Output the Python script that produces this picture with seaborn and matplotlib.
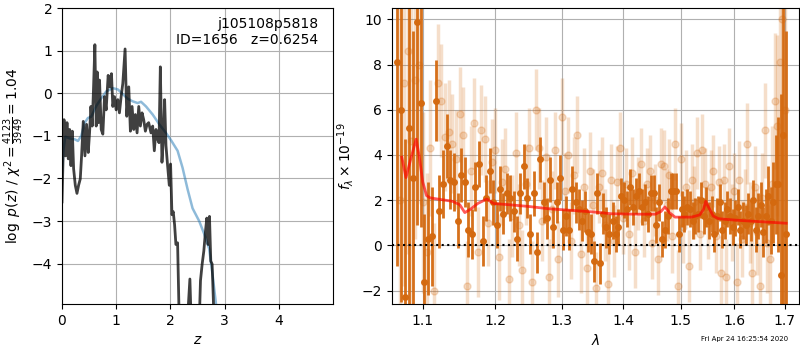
import numpy as np
import pandas as pd
import matplotlib
matplotlib.use("Agg")
import matplotlib.pyplot as plt
import seaborn as sns
from matplotlib.ticker import FixedLocator, FixedFormatter, NullLocator

# p(z) curve (noisy) and smoothed prior-ish curve
pz_z = [0.0, 0.037, 0.067, 0.092, 0.116, 0.141, 0.165, 0.19, 0.214, 0.245, 0.276, 0.306,
        0.337, 0.361, 0.392, 0.423, 0.453, 0.484, 0.508, 0.533, 0.557, 0.582, 0.606, 0.631,
        0.649, 0.674, 0.692, 0.723, 0.753, 0.784, 0.814, 0.851, 0.882, 0.912, 0.937, 0.968,
        0.998, 1.029, 1.059, 1.09, 1.121, 1.163, 1.194, 1.231, 1.261, 1.292, 1.323, 1.353,
        1.384, 1.415, 1.445, 1.476, 1.506, 1.537, 1.568, 1.598, 1.641, 1.672, 1.702, 1.733,
        1.764, 1.788, 1.813, 1.843, 1.868, 1.892, 1.917, 1.947, 1.978, 2.002, 2.027, 2.051,
        2.076, 2.1, 2.131, 2.162, 2.31, 2.358, 2.382, 2.53, 2.553, 2.584, 2.615, 2.645,
        2.67, 2.694, 2.719, 2.743, 2.768, 2.805]
pz_logp = [-2.55, -0.62, -1.47, -0.69, -1.54, -0.85, -1.70, -0.89, -1.77, -2.16, -2.35, -2.16,
           -2.01, -1.47, -0.66, -1.47, -0.73, -1.39, -0.93, -0.31, -0.77, 0.15, 1.14, -0.77,
           0.50, -0.69, 0.31, -0.85, -0.96, -0.08, -0.39, 0.42, 0.15, 0.46, -0.31, -0.08,
           -0.39, -0.15, -0.46, -0.08, 0.23, 1.04, -0.54, 0.15, -0.89, -0.31, -0.85, -0.50,
           -0.93, -0.31, -0.77, -0.46, -0.62, -0.89, -0.73, -0.69, -0.93, -0.77, -1.35, -0.85,
           -1.08, -1.16, 0.62, -1.62, -1.08, -0.15, -1.23, -1.70, -2.16, -1.66, -2.85, -2.78,
           -3.09, -3.55, -3.51, -5.4, -5.4, -4.36, -5.4, -5.4, -4.40, -4.01, -3.70, -3.24,
           -2.93, -3.55, -2.89, -3.94, -4.01, -5.4]

smooth_z = [0.0, 0.03, 0.061, 0.141, 0.233, 0.294, 0.355, 0.416, 0.478, 0.539, 0.631, 0.723,
            0.814, 0.937, 1.029, 1.121, 1.212, 1.304, 1.396, 1.457, 1.549, 1.672, 1.794,
            1.917, 2.009, 2.131, 2.223, 2.315, 2.407, 2.529, 2.621, 2.713, 2.774, 2.835, 2.9]
smooth_logp = [-1.85, -1.3, -1.02, -1.06, -1.08, -1.12, -1.0, -0.7, -0.58, -0.55, -0.30, -0.12,
               0.04, 0.12, 0.09, -0.02, -0.13, -0.19, -0.23, -0.20, -0.31, -0.50, -0.73,
               -0.93, -1.10, -1.35, -1.75, -2.25, -2.70, -3.00, -3.30, -3.65, -4.24, -4.90, -5.6]

# spectrum, combined (dark) points
lam_dark = [1.067, 1.072, 1.077, 1.082, 1.087, 1.092, 1.097, 1.102, 1.107, 1.112, 1.117, 1.122,
            1.127, 1.132, 1.137, 1.142, 1.147, 1.152, 1.157, 1.162, 1.167, 1.172, 1.177, 1.182,
            1.187, 1.192, 1.197, 1.202, 1.207, 1.212, 1.217, 1.222, 1.227, 1.232, 1.237, 1.242,
            1.247, 1.252, 1.257, 1.262, 1.267, 1.272, 1.277, 1.282, 1.287, 1.292, 1.297, 1.302,
            1.307, 1.312, 1.317, 1.322, 1.327, 1.332, 1.337, 1.342, 1.347, 1.352, 1.357, 1.362,
            1.367, 1.372, 1.377, 1.382, 1.387, 1.392, 1.397, 1.402, 1.407, 1.412, 1.417, 1.422,
            1.427, 1.432, 1.437, 1.442, 1.447, 1.452, 1.457, 1.462, 1.467, 1.472, 1.477, 1.482,
            1.487, 1.492, 1.497, 1.502, 1.507, 1.512, 1.517, 1.522, 1.527, 1.532, 1.537, 1.542,
            1.547, 1.552, 1.557, 1.562, 1.567, 1.572, 1.577, 1.582, 1.587, 1.592, 1.597, 1.602,
            1.607, 1.612, 1.617, 1.622, 1.627, 1.632, 1.637, 1.642, 1.647, 1.652, 1.657, 1.662,
            1.667, 1.672, 1.677, 1.682, 1.687, 1.692, 1.697, 1.702]
flux_dark = [8.1, 6.0, -2.3, 5.2, 3.0, 9.9, 6.3, -1.6, 0.3, 0.4, 6.4, 1.5,
             2.7, 4.4, 2.9, 2.8, 1.1, 3.1, 2.8, 0.7, 0.5, 2.6, 3.6, 0.2,
             2.1, 3.3, 1.9, 0.9, 2.5, 1.4, 2.3, 2.1, 1.5, 0.3, 2.3, 3.5,
             2.1, 0.5, 2.3, -0.3, 3.8, 1.9, 1.2, 2.9, 0.8, 1.9, 3.0, 0.7,
             1.3, 0.7, 2.5, 1.9, 1.6, 1.1, 1.5, 0.6, 0.5, -0.7, 2.3, -0.8,
             1.4, 0.8, 0.5, 1.1, 0.5, 0.8, 2.2, 2.0, 1.6, 2.6, 1.7, 2.2,
             2.4, 1.7, 1.9, 1.4, 2.3, 2.3, 0.9, 1.9, 0.3, 0.7, 1.3, 2.4,
             2.4, 2.4, 0.5, 1.6, 1.4, 1.7, 1.6, 1.1, 1.3, 1.4, 2.0, 1.3,
             1.7, 1.1, 1.4, 0.5, 1.3, 1.9, 0.7, 1.1, 1.6, 1.3, 0.8, 1.2,
             1.7, 0.7, 1.1, 0.9, 1.4, 1.1, 2.0, 0.7, 1.3, 1.8, 0.6, 1.3,
             2.2, 1.1, 1.9, 2.7, 2.7, -1.3, 4.9, 0.5]
err_dark = [9.0, 8.5, 7.0, 8.0, 6.5, 9.0, 5.5, 3.0, 2.5, 2.2, 1.8, 1.6,
            1.5, 1.4, 1.3, 1.3, 1.2, 1.2, 1.1, 1.2, 1.1, 1.1, 1.0, 1.1,
            1.0, 1.0, 1.0, 1.0, 1.0, 0.9, 0.9, 1.0, 0.9, 1.0, 0.9, 1.0,
            0.9, 0.9, 1.0, 0.9, 1.0, 0.9, 0.9, 1.0, 0.9, 0.9, 1.0, 0.9,
            0.9, 0.9, 1.0, 0.9, 0.9, 0.9, 0.9, 0.9, 0.9, 0.9, 0.9, 0.9,
            0.9, 0.9, 0.9, 0.8, 0.8, 0.8, 0.8, 0.8, 0.8, 0.8, 0.8, 0.8,
            0.8, 0.8, 0.8, 0.8, 0.8, 0.8, 0.8, 0.8, 0.8, 0.8, 0.8, 0.8,
            0.8, 0.8, 0.8, 0.8, 0.8, 0.8, 0.8, 0.8, 0.8, 0.8, 0.8, 0.8,
            0.9, 0.8, 0.8, 0.8, 0.8, 0.8, 0.8, 0.8, 0.8, 0.8, 0.8, 0.8,
            0.8, 0.8, 0.8, 0.9, 0.9, 0.9, 0.9, 1.0, 1.0, 1.0, 1.1, 1.2,
            1.3, 1.5, 1.8, 2.2, 3.0, 8.0, 8.5, 9.0]

# individual beam (light) points
lam_light = [1.070, 1.075, 1.080, 1.085, 1.090, 1.095, 1.100, 1.105, 1.110, 1.115, 1.120, 1.125,
             1.130, 1.135, 1.140, 1.145, 1.150, 1.155, 1.160, 1.165, 1.170, 1.175, 1.180, 1.185,
             1.190, 1.195, 1.200, 1.205, 1.210, 1.215, 1.220, 1.225, 1.230, 1.235, 1.240, 1.245,
             1.250, 1.255, 1.260, 1.265, 1.270, 1.275, 1.280, 1.285, 1.290, 1.295, 1.300, 1.305,
             1.310, 1.315, 1.320, 1.325, 1.330, 1.335, 1.340, 1.345, 1.350, 1.355, 1.360, 1.365,
             1.370, 1.375, 1.380, 1.385, 1.390, 1.395, 1.400, 1.405, 1.410, 1.415, 1.420, 1.425,
             1.430, 1.435, 1.440, 1.445, 1.450, 1.455, 1.460, 1.465, 1.470, 1.475, 1.480, 1.485,
             1.490, 1.495, 1.500, 1.505, 1.510, 1.515, 1.520, 1.525, 1.530, 1.535, 1.540, 1.545,
             1.550, 1.555, 1.560, 1.565, 1.570, 1.575, 1.580, 1.585, 1.590, 1.595, 1.600, 1.605,
             1.610, 1.615, 1.620, 1.625, 1.630, 1.635, 1.640, 1.645, 1.650, 1.655, 1.660, 1.665,
             1.670, 1.675, 1.680, 1.685, 1.690, 1.695, 1.700]
flux_light = [2.0, 7.2, 8.6, 4.6, 7.3, 8.0, 1.9, -0.3, 4.3, -2.0, 7.2, 6.4,
              4.8, 5.0, 4.5, 3.8, 5.8, 4.9, -1.8, 3.3, 5.4, -0.3, 5.1, 4.7,
              1.0, 3.7, 4.2, -0.5, 2.8, 3.4, -1.5, 1.3, 4.1, 0.9, -1.1, 2.7,
              4.3, -1.6, 6.0, 4.3, 1.1, 3.9, -1.4, 1.6, 4.2, -0.6, 5.7, 2.4,
              4.0, 0.2, 3.1, 4.9, -0.4, 2.6, -1.0, 3.3, 1.8, -1.9, 2.6, 3.2,
              0.9, -1.7, 2.9, 0.2, 2.8, 4.3, 1.2, 2.7, 0.5, 3.2, -0.3, 2.3,
              3.6, 1.1, 2.7, 3.3, 0.1, 2.0, -0.6, 3.6, 3.5, 1.8, 3.1, 0.4,
              4.5, -1.8, 3.8, 0.8, 2.6, -0.9, 2.9, 1.9, 4.1, 0.5, 4.2, 2.7,
              1.0, 2.6, 3.3, 0.4, 2.8, -1.2, 2.9, -1.4, 3.5, 1.0, 2.4, -1.6,
              2.9, 0.3, 1.7, 4.5, 1.0, -1.2, 2.6, 0.6, -1.8, 2.1, 5.1, 0.1,
              -0.6, 2.7, 6.4, 5.3, 8.1, 10.0, 6.0]
err_light = [10.0, 9.0, 9.0, 8.0, 7.0, 6.0, 4.0, 3.5, 3.0, 3.0, 2.6, 2.5,
             2.4, 2.3, 2.2, 2.2, 2.1, 2.1, 2.0, 2.0, 2.0, 2.0, 2.0, 1.9,
             1.9, 1.9, 1.9, 1.9, 1.9, 1.8, 1.8, 1.8, 1.8, 1.8, 1.8, 1.8,
             1.8, 1.8, 1.8, 1.8, 1.8, 1.8, 1.7, 1.7, 1.7, 1.7, 1.7, 1.7,
             1.7, 1.7, 1.7, 1.7, 1.7, 1.7, 1.7, 1.7, 1.6, 1.6, 1.6, 1.6,
             1.6, 1.6, 1.6, 1.6, 1.6, 1.6, 1.6, 1.6, 1.6, 1.6, 1.6, 1.6,
             1.6, 1.6, 1.6, 1.6, 1.6, 1.6, 1.6, 1.6, 1.6, 1.6, 1.6, 1.6,
             1.6, 1.6, 1.6, 1.6, 1.6, 1.6, 1.6, 1.6, 1.6, 1.6, 1.6, 1.6,
             1.6, 1.6, 1.6, 1.6, 1.6, 1.6, 1.6, 1.7, 1.7, 1.7, 1.7, 1.7,
             1.7, 1.7, 1.7, 1.8, 1.8, 1.8, 1.8, 1.9, 1.9, 2.0, 2.1, 2.2,
             2.4, 2.6, 3.0, 4.0, 5.5, 7.0, 9.0]

# best-fit model
lam_model = [1.0726, 1.078, 1.084, 1.0912, 1.095, 1.100, 1.105, 1.110, 1.120, 1.140, 1.150,
             1.157, 1.165, 1.175, 1.188, 1.198, 1.220, 1.250, 1.280, 1.300, 1.350, 1.380,
             1.420, 1.455, 1.465, 1.472, 1.480, 1.490, 1.520, 1.535, 1.542, 1.546, 1.551,
             1.560, 1.570, 1.600, 1.650, 1.703]
flux_model = [3.9, 3.0, 3.8, 4.7, 4.0, 2.8, 2.2, 2.1, 2.05, 1.95, 1.8,
              1.45, 1.6, 1.85, 2.05, 1.85, 1.8, 1.72, 1.62, 1.58, 1.48, 1.40,
              1.38, 1.38, 1.5, 1.7, 1.45, 1.25, 1.25, 1.35, 1.6, 1.95, 1.7,
              1.3, 1.18, 1.12, 1.05, 0.98]

lam_ticks = [1.1, 1.2, 1.3, 1.4, 1.5, 1.6, 1.7]
orange = "#d4690f"

fig = plt.figure(figsize=(8, 3.5), dpi=100)
ax1 = fig.add_axes([0.0775, 0.131, 0.339, 0.846])
ax2 = fig.add_axes([0.49, 0.131, 0.509, 0.846])

#p(z) panel
pz = pd.DataFrame({"z": pz_z, "logp": pz_logp})
sm = pd.DataFrame({"z": smooth_z, "logp": smooth_logp})
sns.lineplot(data=sm, x="z", y="logp", ax=ax1, color="#1f77b4", alpha=0.5, lw=1.8,
             estimator=None, sort=False)
sns.lineplot(data=pz, x="z", y="logp", ax=ax1, color="k", alpha=0.75, lw=2,
             estimator=None, sort=False)
ax1.set_xlim(0, 5.0)
ax1.set_ylim(-4.95, 2)
ax1.set_xticks([0, 1, 2, 3, 4])
ax1.set_yticks([-4, -3, -2, -1, 0, 1, 2])
ax1.grid(True)
ax1.set_xlabel(r"$z$")
ax1.set_ylabel(r"$\log\ p(z)$ / $\chi^2=\frac{4123}{3949}=1.04$")
ax1.text(0.945, 0.97, "j105108p5818\nID=1656   z=0.6254", transform=ax1.transAxes,
         ha="right", va="top", fontsize=10)

#spectrum panel
ax2.errorbar(lam_light, flux_light, yerr=err_light, fmt="o", color=orange, alpha=0.22,
             ms=5, lw=2.5, zorder=1)
ax2.errorbar(lam_dark, flux_dark, yerr=err_dark, fmt="o", color=orange, alpha=0.95,
             ms=4, lw=2, zorder=2)
md = pd.DataFrame({"lam": lam_model, "flux": flux_model})
sns.lineplot(data=md, x="lam", y="flux", ax=ax2, color="r", alpha=0.65, lw=2,
             estimator=None, sort=False, zorder=3)
ax2.axhline(0, color="k", ls=":", lw=1.5, zorder=4)
ax2.set_xscale("log")
ax2.set_xlim(1.06, 1.73)
ax2.set_ylim(-2.6, 10.5)
ax2.xaxis.set_major_locator(FixedLocator(lam_ticks))
ax2.xaxis.set_major_formatter(FixedFormatter([str(t) for t in lam_ticks]))
ax2.xaxis.set_minor_locator(NullLocator())
ax2.set_yticks([-2, 0, 2, 4, 6, 8, 10])
ax2.grid(True)
ax2.set_axisbelow(True)
ax2.set_xlabel(r"$\lambda$")
ax2.set_ylabel(r"$f_\lambda\times10^{-19}$")

fig.text(0.985, 0.031, "Fri Apr 24 16:25:54 2020", ha="right", va="center", fontsize=5)

fig.savefig("out.png", dpi=100)
